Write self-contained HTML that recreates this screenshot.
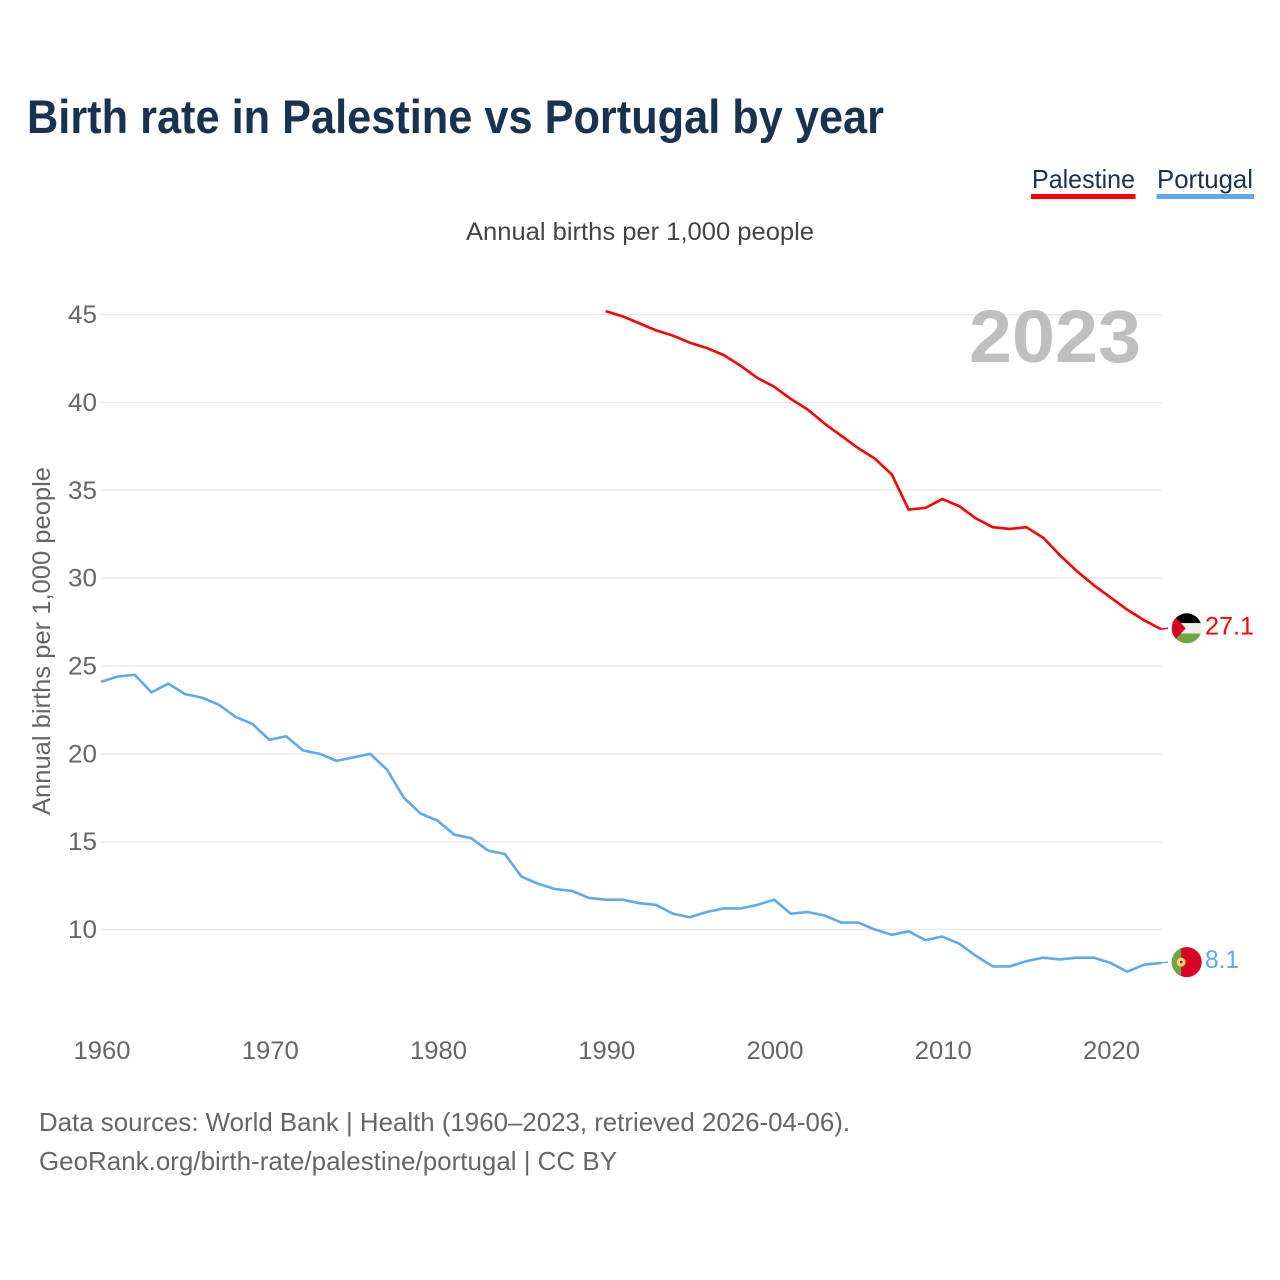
<!DOCTYPE html>
<html lang="en">
<head>
<meta charset="utf-8">
<title>Birth rate in Palestine vs Portugal by year</title>
<style>
html,body{margin:0;padding:0;background:#fff;width:1280px;height:1280px;overflow:hidden}
svg{display:block;font-family:"Liberation Sans",sans-serif}
</style>
</head>
<body>
<svg id="chart" width="1280" height="1280" viewBox="0 0 1280 1280" xmlns="http://www.w3.org/2000/svg">
  <defs>
    <clipPath id="clip-ps"><circle id="clip-ps-circle" r="15"/></clipPath>
    <clipPath id="clip-pt"><circle id="clip-pt-circle" r="15"/></clipPath>
  </defs>
  <text x="27" y="133" font-size="47" font-weight="700" fill="#18324f" textLength="857" lengthAdjust="spacingAndGlyphs">Birth rate in Palestine vs Portugal by year</text>

  <g>
    <g>
      <text x="1032" y="188" font-size="26" fill="#18324f" textLength="103" lengthAdjust="spacingAndGlyphs">Palestine</text>
      <rect x="1031" y="194" width="104.5" height="5" fill="#ff0000"/>
    </g>
    <g>
      <text x="1157" y="188" font-size="26" fill="#18324f" textLength="96" lengthAdjust="spacingAndGlyphs">Portugal</text>
      <rect x="1156.5" y="194" width="97.5" height="5" fill="#60a8ee"/>
    </g>
  </g>

  <text x="466" y="240" font-size="25" fill="#444444" textLength="348" lengthAdjust="spacingAndGlyphs">Annual births per 1,000 people</text>

  <g id="grid"></g>
  <g id="y-axis"></g>
  <g id="x-axis"></g>

  <text transform="translate(50,815) rotate(-90)" font-size="25" fill="#666666" textLength="348" lengthAdjust="spacingAndGlyphs">Annual births per 1,000 people</text>

  <text x="969" y="362" font-size="74" font-weight="700" fill="#bfbfbf" textLength="172" lengthAdjust="spacingAndGlyphs">2023</text>

  <g id="series"></g>

  <g id="flag-ps" clip-path="url(#clip-ps)"></g>
  <g id="flag-pt" clip-path="url(#clip-pt)"></g>

  <g id="end-labels"></g>

  <text x="39" y="1131" font-size="26" fill="#666666" textLength="811" lengthAdjust="spacingAndGlyphs">Data sources: World Bank | Health (1960–2023, retrieved 2026-04-06).</text>
  <text x="39" y="1170" font-size="26" fill="#666666" textLength="578" lengthAdjust="spacingAndGlyphs">GeoRank.org/birth-rate/palestine/portugal | CC BY</text>
</svg>
<script>
const portugalYears = [1960,1961,1962,1963,1964,1965,1966,1967,1968,1969,1970,1971,1972,1973,1974,1975,1976,1977,1978,1979,1980,1981,1982,1983,1984,1985,1986,1987,1988,1989,1990,1991,1992,1993,1994,1995,1996,1997,1998,1999,2000,2001,2002,2003,2004,2005,2006,2007,2008,2009,2010,2011,2012,2013,2014,2015,2016,2017,2018,2019,2020,2021,2022,2023];
const portugalValues = [24.1,24.4,24.5,23.5,24.0,23.4,23.2,22.8,22.1,21.7,20.8,21.0,20.2,20.0,19.6,19.8,20.0,19.1,17.5,16.6,16.2,15.4,15.2,14.5,14.3,13.0,12.6,12.3,12.2,11.8,11.7,11.7,11.5,11.4,10.9,10.7,11.0,11.2,11.2,11.4,11.7,10.9,11.0,10.8,10.4,10.4,10.0,9.7,9.9,9.4,9.6,9.2,8.5,7.9,7.9,8.2,8.4,8.3,8.4,8.4,8.1,7.6,8.0,8.1];
const palestineYears = [1990,1991,1992,1993,1994,1995,1996,1997,1998,1999,2000,2001,2002,2003,2004,2005,2006,2007,2008,2009,2010,2011,2012,2013,2014,2015,2016,2017,2018,2019,2020,2021,2022,2023];
const palestineValues = [45.2,44.9,44.5,44.1,43.8,43.4,43.1,42.7,42.1,41.4,40.9,40.2,39.6,38.8,38.1,37.4,36.8,35.9,33.9,34.0,34.5,34.1,33.4,32.9,32.8,32.9,32.3,31.3,30.4,29.6,28.9,28.2,27.6,27.1];
const yTicks = [10,15,20,25,30,35,40,45];
const xTicks = [1960,1970,1980,1990,2000,2010,2020];

const NS = 'http://www.w3.org/2000/svg';
const xScale = function (year) { return 101 + (year - 1960) * (1060 / 63); };
const yScale = function (value) { return 666 - (value - 25) * 17.57; };

function make(tag, parent, attrs) {
  const node = document.createElementNS(NS, tag);
  Object.keys(attrs).forEach(function (key) { node.setAttribute(key, attrs[key]); });
  parent.appendChild(node);
  return node;
}
function pathFrom(years, values) {
  return values.map(function (v, i) {
    return (i ? 'L' : 'M') + xScale(years[i]).toFixed(2) + ' ' + yScale(v).toFixed(2);
  }).join(' ');
}

const grid = document.getElementById('grid');
const yAxis = document.getElementById('y-axis');
const xAxis = document.getElementById('x-axis');
const series = document.getElementById('series');
const endLabels = document.getElementById('end-labels');

yTicks.forEach(function (tick) {
  const line = make('line', grid, { x1: 101, x2: 1162, y1: yScale(tick), y2: yScale(tick), stroke: '#ebebeb', 'stroke-width': 1.5 });
  
  
  const label = make('text', yAxis, { x: 97, y: yScale(tick) + 8.5, 'font-size': 25, fill: '#666666', 'text-anchor': 'end', textLength: 29, lengthAdjust: 'spacingAndGlyphs' });
  label.textContent = String(tick);
  
  
});

xTicks.forEach(function (tick) {
  const label = make('text', xAxis, { x: xScale(tick) + 1, y: 1059, 'font-size': 25, fill: '#666666', 'text-anchor': 'middle', textLength: 57, lengthAdjust: 'spacingAndGlyphs' });
  label.textContent = String(tick);
  
  
});

const lastPs = palestineValues[palestineValues.length - 1];
const lastPt = portugalValues[portugalValues.length - 1];
const lastYear = portugalYears[portugalYears.length - 1];
const endX = xScale(lastYear);
const flagX = 1186.7;
const psY = yScale(lastPs) - 0.8;
const ptY = yScale(lastPt) - 0.8;

const linePs = make('path', series, { d: pathFrom(palestineYears, palestineValues), fill: 'none', stroke: '#ff0000', 'stroke-width': 2.6, 'stroke-linejoin': 'round' });



const linePt = make('path', series, { d: pathFrom(portugalYears, portugalValues), fill: 'none', stroke: '#60a8ee', 'stroke-width': 2.6, 'stroke-linejoin': 'round' });



const connectorPs = make('line', series, { x1: endX, x2: 1168, y1: yScale(lastPs), y2: psY, stroke: '#ff0000', 'stroke-width': 1.5 });



const connectorPt = make('line', series, { x1: endX, x2: 1168, y1: yScale(lastPt), y2: ptY, stroke: '#60a8ee', 'stroke-width': 1.5 });



/* flag markers follow the last data value */
const cps = document.getElementById('clip-ps-circle');
cps.setAttribute('cx', flagX);
cps.setAttribute('cy', psY);
const cpt = document.getElementById('clip-pt-circle');
cpt.setAttribute('cx', flagX);
cpt.setAttribute('cy', ptY);

const flagPs = document.getElementById('flag-ps');
make('rect', flagPs, { x: flagX - 16, y: psY - 16, width: 32, height: 11, fill: '#000000' });
make('rect', flagPs, { x: flagX - 16, y: psY - 5.2, width: 32, height: 10.4, fill: '#eeeeee' });
make('rect', flagPs, { x: flagX - 16, y: psY + 5.2, width: 32, height: 11, fill: '#6da544' });
make('polygon', flagPs, { points: [flagX - 16, psY - 16, flagX - 1, psY, flagX - 16, psY + 16].join(' '), fill: '#d80027' });

const flagPt = document.getElementById('flag-pt');
make('rect', flagPt, { x: flagX - 16, y: ptY - 16, width: 32, height: 32, fill: '#d80027' });
make('rect', flagPt, { x: flagX - 16, y: ptY - 16, width: 10.5, height: 32, fill: '#6da544' });
make('circle', flagPt, { cx: flagX - 5.5, cy: ptY, r: 3.4, fill: '#ffffff', stroke: '#ffda44', 'stroke-width': 2.2 });
make('circle', flagPt, { cx: flagX - 5.5, cy: ptY, r: 1.5, fill: '#d80027' });

const labelPs = make('text', endLabels, { x: 1205, y: psY + 6, 'font-size': 25, fill: '#ff0000', textLength: 49, lengthAdjust: 'spacingAndGlyphs' });
labelPs.textContent = lastPs.toFixed(1);



const labelPt = make('text', endLabels, { x: 1205, y: ptY + 6, 'font-size': 25, fill: '#60a8ee', textLength: 34, lengthAdjust: 'spacingAndGlyphs' });
labelPt.textContent = lastPt.toFixed(1);


</script>
</body>
</html>
